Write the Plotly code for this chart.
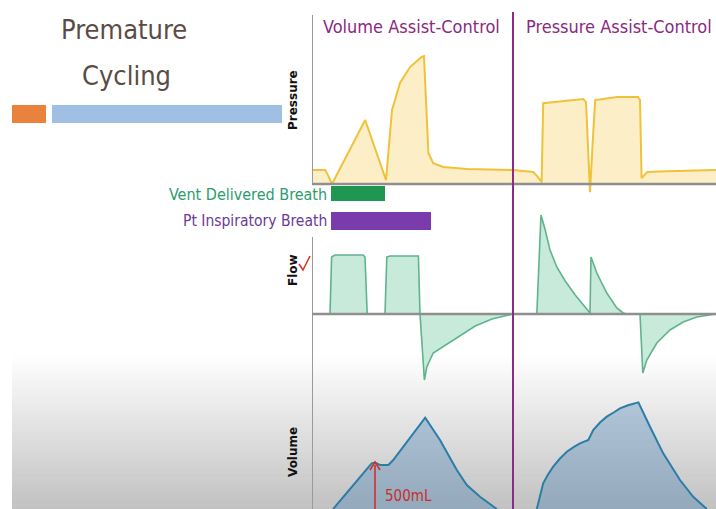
import plotly.graph_objects as go

W, H = 716, 509

# ---------------- data (time in arbitrary units) ----------------
press_vc_t = [0, 0.33, 0.4, 0.5, 1.33, 1.85, 2.0, 2.2, 2.45, 2.74, 2.8, 2.85, 2.91, 3.03, 3.28, 3.88, 5.03]
press_vc = [5.0, 5.0, 3.2, 0.0, 22.9, 1.4, 26.4, 36.1, 41.8, 45.4, 45.7, 30.0, 11.1, 7.5, 6.1, 5.4, 5.0]
press_pc_t = [5.03, 5.53, 5.65, 5.74, 5.78, 6.03, 6.78, 6.85, 6.88, 6.95, 7.03, 7.08, 7.63, 8.15, 8.2, 8.24, 8.38, 8.88, 10.1]
press_pc = [5.0, 4.3, 2.5, 0.7, 28.9, 29.3, 30.4, 29.3, 18.2, -2.9, 18.2, 30.0, 31.1, 31.1, 30.0, 2.1, 4.3, 4.6, 5.0]

flow_vc_t = [0, 0.45, 0.49, 0.575, 1.28, 1.325, 1.38, 1.825, 1.87, 1.95, 2.66, 2.7, 2.81, 2.87, 3.03, 3.67, 4.08, 4.5, 4.92, 5.03]
flow_vc = [0, 0, 57, 59, 59, 57, 0, 0, 57, 58, 58, 0, -66, -53, -39, -23, -12, -5, -1, 0]
flow_pc_t = [5.03, 5.62, 5.725, 5.83, 5.95, 6.12, 6.33, 6.58, 6.95, 6.975, 7.12, 7.37, 7.62, 7.78, 7.87, 8.2, 8.27, 8.37, 8.62, 8.95, 9.28, 9.62, 10.1]
flow_pc = [0, 0, 99, 84, 64, 47, 33, 19, 1, 57, 41, 21, 6, 1, 0, 0, -59, -46, -29, -16, -8, -3, 0]

vol_vc_t = [0.53, 1.49, 1.575, 1.7, 1.91, 2.03, 2.83, 3.2, 3.62, 3.87, 4.2, 4.62]
vol_vc = [0, 489, 496, 471, 471, 524, 976, 738, 417, 257, 131, 0]
vol_pc_t = [5.62, 5.7, 5.78, 5.9, 6.03, 6.2, 6.37, 6.55, 6.7, 6.91, 7.03, 7.2, 7.37, 7.55, 7.7, 7.9, 8.16, 8.45, 8.78, 9.2, 9.53, 9.87]
vol_pc = [0, 150, 275, 370, 453, 540, 613, 665, 702, 738, 845, 925, 988, 1035, 1077, 1110, 1141, 880, 595, 310, 131, 0]

vent_breath = [0.475, 1.825]
pt_breath = [0.475, 2.975]
mode_split = 5.025

titles = ["Volume Assist-Control", "Pressure Assist-Control"]
panel_labels = ["Pressure", "Flow", "Volume"]
legend_labels = ["Vent Delivered Breath", "Pt Inspiratory Breath"]

# ---------------- helpers ----------------
def px(x):
    return x / W

def py(y):
    return 1 - y / H

COND = "DejaVu Sans Condensed, Liberation Sans Narrow, sans-serif"

fig = go.Figure()

P_LINE, P_FILL = "#f0c23a", "rgba(252,236,190,0.85)"
F_LINE, F_FILL = "#5fb38e", "rgba(190,230,212,0.85)"
V_LINE, V_FILL = "#2a7ea6", "rgba(58,119,180,0.33)"

for t, v in [(press_vc_t, press_vc), (press_pc_t, press_pc)]:
    fig.add_trace(go.Scatter(x=t, y=v, xaxis="x", yaxis="y", mode="lines",
                             line=dict(color=P_LINE, width=2), fill="tozeroy",
                             fillcolor=P_FILL, hoverinfo="skip"))
for t, v in [(flow_vc_t, flow_vc), (flow_pc_t, flow_pc)]:
    fig.add_trace(go.Scatter(x=t, y=v, xaxis="x", yaxis="y2", mode="lines",
                             line=dict(color=F_LINE, width=1.6), fill="tozeroy",
                             fillcolor=F_FILL, hoverinfo="skip"))
for t, v in [(vol_vc_t, vol_vc), (vol_pc_t, vol_pc)]:
    fig.add_trace(go.Scatter(x=t, y=v, xaxis="x", yaxis="y3", mode="lines",
                             line=dict(color=V_LINE, width=2), fill="tozeroy",
                             fillcolor=V_FILL, hoverinfo="skip"))

shapes = []
# background gradient (lower part of slide)
n = 40
g0, g1 = 355, 509
for i in range(n):
    ya = g0 + (g1 - g0) * i / n
    yb = g0 + (g1 - g0) * (i + 1) / n + 0.6
    c = int(round(255 - 62 * (i + 0.5) / n))
    shapes.append(dict(type="rect", xref="paper", yref="paper", x0=px(12), x1=1,
                       y0=py(yb), y1=py(ya), fillcolor=f"rgb({c},{c},{c})",
                       line=dict(width=0), layer="below"))
# slide progress bars
shapes.append(dict(type="rect", xref="paper", yref="paper", x0=px(12), x1=px(46),
                   y0=py(123), y1=py(105), fillcolor="#e8823c", line=dict(width=0)))
shapes.append(dict(type="rect", xref="paper", yref="paper", x0=px(52), x1=px(282),
                   y0=py(123), y1=py(105), fillcolor="#9fc0e2", line=dict(width=0)))
# axes lines
AX = "#9a9a9a"
shapes.append(dict(type="line", xref="x", yref="paper", x0=0, x1=0,
                   y0=py(184), y1=py(15), line=dict(color=AX, width=2)))
shapes.append(dict(type="line", xref="x", yref="paper", x0=0, x1=0,
                   y0=0, y1=py(237), line=dict(color=AX, width=2)))
shapes.append(dict(type="line", xref="x", yref="y", x0=0, x1=10.1, y0=0, y1=0,
                   line=dict(color="#8f8f8f", width=2.5)))
shapes.append(dict(type="line", xref="x", yref="y2", x0=0, x1=10.1, y0=0, y1=0,
                   line=dict(color="#8f8f8f", width=2.5)))
# mode divider
shapes.append(dict(type="line", xref="x", yref="paper", x0=mode_split, x1=mode_split,
                   y0=0, y1=py(12), line=dict(color="#8c2b85", width=2)))
# breath timing bars
shapes.append(dict(type="rect", xref="x", yref="paper", x0=vent_breath[0], x1=vent_breath[1],
                   y0=py(201), y1=py(186), fillcolor="#1f9652", line=dict(width=0)))
shapes.append(dict(type="rect", xref="x", yref="paper", x0=pt_breath[0], x1=pt_breath[1],
                   y0=py(230), y1=py(212), fillcolor="#7a3cac", line=dict(width=0)))
# red arrow (500 mL)
shapes.append(dict(type="line", xref="x", yref="y3", x0=1.575, x1=1.575, y0=0, y1=470,
                   line=dict(color="#d0302a", width=1.6)))
shapes.append(dict(type="path", xref="paper", yref="paper",
                   path=f"M {px(370)} {py(470)} L {px(375)} {py(462)} L {px(380)} {py(470)}",
                   line=dict(color="#d0302a", width=1.6)))
# red check mark near Flow
shapes.append(dict(type="path", xref="paper", yref="paper",
                   path=f"M {px(299)} {py(264)} L {px(303)} {py(270)} L {px(310)} {py(256)}",
                   line=dict(color="#d9362e", width=1.6)))

ann = []
ann.append(dict(text="Premature", x=px(59), y=py(30), xref="paper", yref="paper",
                xanchor="left", yanchor="middle", showarrow=False,
                font=dict(family=COND, size=27, color="#5b4b46")))
ann.append(dict(text="Cycling", x=px(80), y=py(76), xref="paper", yref="paper",
                xanchor="left", yanchor="middle", showarrow=False,
                font=dict(family=COND, size=27, color="#5b4b46")))
ann.append(dict(text=titles[0], x=px(321), y=py(26), xref="paper", yref="paper",
                xanchor="left", yanchor="middle", showarrow=False,
                font=dict(family=COND, size=18, color="#8a2a80")))
ann.append(dict(text=titles[1], x=px(524), y=py(26), xref="paper", yref="paper",
                xanchor="left", yanchor="middle", showarrow=False,
                font=dict(family=COND, size=18, color="#8a2a80")))
ann.append(dict(text=legend_labels[0], x=px(329), y=py(194), xref="paper", yref="paper",
                xanchor="right", yanchor="middle", showarrow=False,
                font=dict(family=COND, size=16, color="#2c9c6c")))
ann.append(dict(text=legend_labels[1], x=px(329), y=py(221), xref="paper", yref="paper",
                xanchor="right", yanchor="middle", showarrow=False,
                font=dict(family=COND, size=15.5, color="#6c3a98")))
for lab, yy in zip(panel_labels, [100, 270, 452]):
    ann.append(dict(text=f"<b>{lab}</b>", x=px(293), y=py(yy), xref="paper", yref="paper",
                    xanchor="center", yanchor="middle", showarrow=False, textangle=-90,
                    font=dict(family="DejaVu Sans, sans-serif", size=12, color="#111111")))
ann.append(dict(text="500mL", x=px(383), y=py(496), xref="paper", yref="paper",
                xanchor="left", yanchor="middle", showarrow=False,
                font=dict(family="DejaVu Sans Condensed, sans-serif", size=15, color="#c8302a")))

fig.update_layout(
    width=W, height=H, margin=dict(l=0, r=0, t=0, b=0),
    paper_bgcolor="white", plot_bgcolor="rgba(0,0,0,0)",
    showlegend=False, shapes=shapes, annotations=ann,
    xaxis=dict(domain=[px(312), 1], range=[0, 10.1], visible=False, fixedrange=True),
    yaxis=dict(domain=[py(195), py(15)], range=[-3.9, 60.4], visible=False, anchor="x"),
    yaxis2=dict(domain=[py(390), py(210)], range=[-76, 104], visible=False, anchor="x"),
    yaxis3=dict(domain=[0, py(390)], range=[0, 1273], visible=False, anchor="x"),
)

fig.write_html("out.html", config={"displayModeBar": False},
               post_script="document.body.style.margin='0px';document.body.style.overflow='hidden';")
